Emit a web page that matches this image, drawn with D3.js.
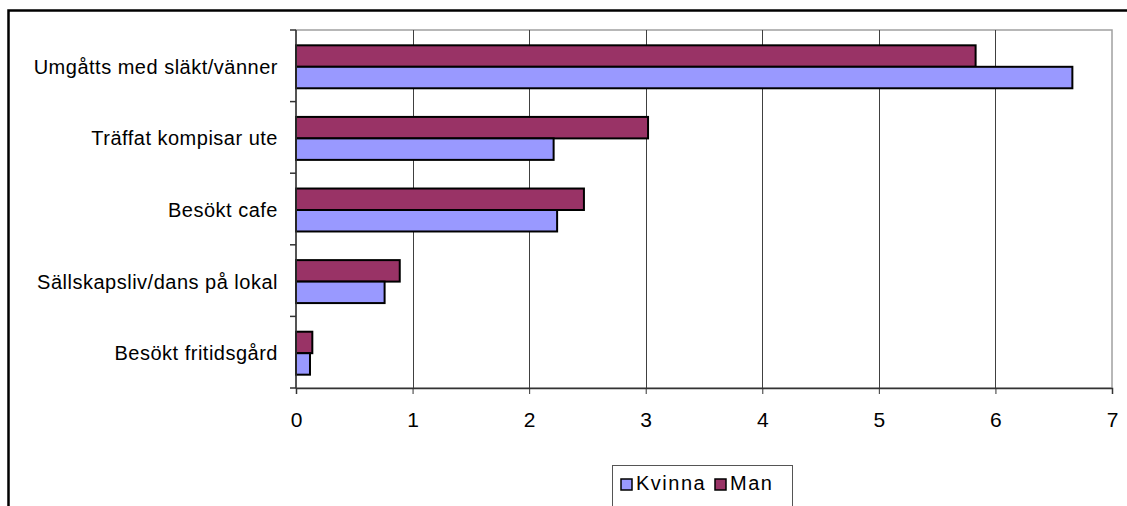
<!DOCTYPE html>
<html>
<head>
<meta charset="utf-8">
<script src="https://cdn.jsdelivr.net/npm/d3@7"></script>
<style>
  html, body { margin: 0; padding: 0; background: #fff; }
  svg { display: block; }
  text { font-family: "Liberation Sans", Arial, sans-serif; fill: #000; }
</style>
</head>
<body>
<svg id="chart" width="1127" height="506"></svg>
<script>
const categories = ["Umgåtts med släkt/vänner", "Träffat kompisar ute", "Besökt cafe", "Sällskapsliv/dans på lokal", "Besökt fritidsgård"];
const seriesNames = ["Man", "Kvinna"];
const kvinna = [6.66, 2.21, 2.24, 0.76, 0.12];
const man = [5.83, 3.02, 2.47, 0.89, 0.14];
const xTicks = [0, 1, 2, 3, 4, 5, 6, 7];
const legendNames = ["Kvinna", "Man"];

const colors = { Kvinna: "#9999FF", Man: "#993366" };
const values = { Kvinna: kvinna, Man: man };

const svg = d3.select("#chart");
const plot = { left: 296, right: 1112, top: 30, bottom: 388 };

// outer chart frame
svg.append("rect")
  .attr("x", 8.5).attr("y", 10.5)
  .attr("width", 1300).attr("height", 700)
  .attr("fill", "none").attr("stroke", "#000").attr("stroke-width", 2.5);

const x = d3.scaleLinear().domain([0, 7]).range([plot.left, plot.right]);
const y = d3.scaleBand().domain(categories).range([plot.top, plot.bottom]).paddingInner(0.4).paddingOuter(0.2);
const ySub = d3.scaleBand().domain(seriesNames).range([0, y.bandwidth()]);

// plot area border (gray)
svg.append("rect")
  .attr("x", plot.left).attr("y", plot.top)
  .attr("width", plot.right - plot.left).attr("height", plot.bottom - plot.top)
  .attr("fill", "#fff").attr("stroke", "#a0a0a0").attr("stroke-width", 1.5);

// gridlines
svg.append("g").selectAll("line")
  .data(xTicks.filter(t => t > 0 && t < 7))
  .join("line")
  .attr("x1", d => Math.round(x(d)) + 0.5).attr("x2", d => Math.round(x(d)) + 0.5)
  .attr("y1", plot.top).attr("y2", plot.bottom)
  .attr("stroke", "#404040").attr("stroke-width", 1);

// bars
const groups = svg.append("g").selectAll("g")
  .data(categories)
  .join("g")
  .attr("transform", d => `translate(0,${y(d) + 1})`);

groups.selectAll("rect")
  .data((d, i) => seriesNames.map(s => ({ s, v: values[s][i] })))
  .join("rect")
  .attr("x", x(0))
  .attr("y", d => ySub(d.s))
  .attr("width", d => x(d.v) - x(0))
  .attr("height", ySub.bandwidth())
  .attr("fill", d => colors[d.s])
  .attr("stroke", "#000")
  .attr("stroke-width", 2);

// x axis
const xAxis = svg.append("g")
  .attr("transform", `translate(0,${plot.bottom})`)
  .call(d3.axisBottom(x).tickValues(xTicks).tickSize(6).tickPadding(18).tickFormat(d3.format("d")));
xAxis.select(".domain").attr("stroke", "#333").attr("stroke-width", 1.5);
xAxis.selectAll(".tick line").attr("stroke", "#333");
xAxis.selectAll(".tick text").style("font-size", "21px").style("font-family", "'Liberation Sans', Arial, sans-serif").attr("fill", "#000");

// y axis: ticks at band boundaries
const yBounds = categories.map(c => y(c) - y.step() * y.paddingInner() / 2).concat([plot.bottom]);
yBounds[0] = plot.top;
svg.append("line")
  .attr("x1", plot.left).attr("x2", plot.left)
  .attr("y1", plot.top).attr("y2", plot.bottom)
  .attr("stroke", "#333").attr("stroke-width", 1.5);
svg.append("g").selectAll("line")
  .data(yBounds)
  .join("line")
  .attr("x1", plot.left - 6).attr("x2", plot.left)
  .attr("y1", d => d).attr("y2", d => d)
  .attr("stroke", "#333").attr("stroke-width", 1.5);

// category labels
svg.append("g").selectAll("text")
  .data(categories)
  .join("text")
  .attr("x", plot.left - 18)
  .attr("y", d => y(d) + y.bandwidth() / 2 + 1)
  .attr("dy", "0.35em")
  .attr("text-anchor", "end")
  .style("font-size", "20px")
  .attr("letter-spacing", 0.5)
  .text(d => d);

// legend
const lg = svg.append("g");
lg.append("rect")
  .attr("x", 612.5).attr("y", 465.5)
  .attr("width", 180).attr("height", 80)
  .attr("fill", "#fff").attr("stroke", "#555").attr("stroke-width", 1);
const legendX = { Kvinna: 621, Man: 715 };
legendNames.forEach(n => {
  lg.append("rect")
    .attr("x", legendX[n]).attr("y", 479)
    .attr("width", 11).attr("height", 11)
    .attr("fill", colors[n]).attr("stroke", "#000").attr("stroke-width", 1.5);
  lg.append("text")
    .attr("x", legendX[n] + 15).attr("y", 490)
    .style("font-size", "20px")
    .attr("letter-spacing", 1.5)
    .text(n);
});
</script>
</body>
</html>
